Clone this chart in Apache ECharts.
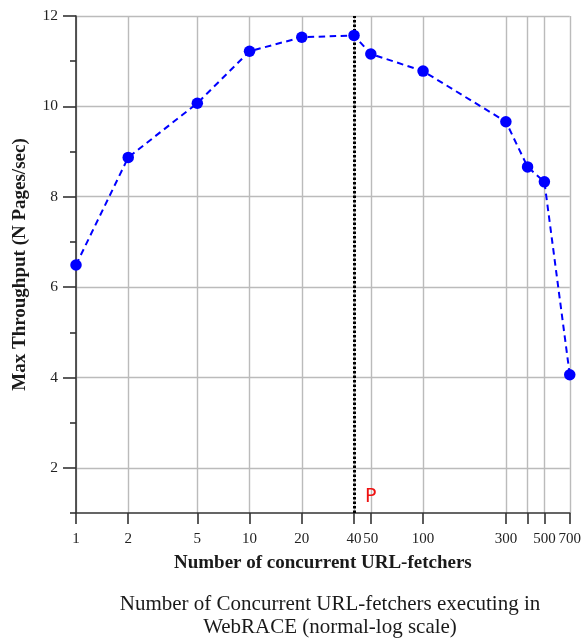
<!DOCTYPE html>
<html>
<head>
<meta charset="utf-8">
<script src="https://cdn.jsdelivr.net/npm/echarts@6/dist/echarts.min.js"></script>
<style>html,body{margin:0;padding:0;background:#fff;}#c{width:584px;height:640px;}</style>
</head>
<body>
<div id="c"></div>
<script>
var fetchers = [1, 2, 5, 10, 20, 40, 50, 100, 300, 400, 500, 700];
var throughput = [6.49, 8.87, 10.07, 11.22, 11.53, 11.57, 11.16, 10.78, 9.66, 8.66, 8.33, 4.06];
var xTicks = [1, 2, 5, 10, 20, 40, 50, 100, 300, 400, 500, 700];
var xLabels = [1, 2, 5, 10, 20, 40, 50, 100, 300, 500, 700];
var yMajor = [2, 4, 6, 8, 10, 12];
var yMinor = [1, 3, 5, 7, 9, 11];
var peakX = 40;
var markText = 'P';
var markPos = [50, 1.35];
var xName = 'Number of concurrent URL-fetchers';
var yName = 'Max Throughput (N Pages/sec)';
var caption = ['Number of Concurrent URL-fetchers executing in', 'WebRACE (normal-log scale)'];

var serif = '"Liberation Serif", "DejaVu Serif", serif';
var chart = echarts.init(document.getElementById('c'), null, {renderer: 'canvas'});
chart.setOption({
  animation: false,
  backgroundColor: '#fff',
  grid: {left: 76, right: 12, top: 16, bottom: 127, containLabel: false},
  xAxis: {
    type: 'log', logBase: 10, min: 1, max: 700,
    name: xName, nameLocation: 'middle', nameGap: 41,
    nameTextStyle: {fontFamily: serif, fontWeight: 'bold', fontSize: 19, color: '#1a1a1a'},
    axisLine: {show: true, onZero: false, lineStyle: {color: '#333', width: 1.6}},
    axisTick: {show: true, inside: false, length: 11, customValues: xTicks, lineStyle: {color: '#333', width: 1.6}},
    axisLabel: {customValues: xLabels, margin: 19, fontFamily: serif, fontSize: 15, color: '#222', showMinLabel: true, showMaxLabel: true, hideOverlap: false},
    splitLine: {show: true, lineStyle: {color: '#bbbbbb', width: 1.4}},
    minorTick: {show: false}
  },
  yAxis: [{
    type: 'value', min: 1, max: 12,
    name: yName, nameLocation: 'middle', nameGap: 46, nameRotate: 90,
    nameTextStyle: {fontFamily: serif, fontWeight: 'bold', fontSize: 19, color: '#1a1a1a'},
    axisLine: {show: true, lineStyle: {color: '#333', width: 1.6}},
    axisTick: {show: true, length: 13, customValues: yMajor, lineStyle: {color: '#333', width: 1.6}},
    axisLabel: {customValues: yMajor, margin: 18, fontFamily: serif, fontSize: 15.5, color: '#222'},
    splitLine: {show: true, lineStyle: {color: '#bbbbbb', width: 1.4}}
  }, {
    type: 'value', min: 1, max: 12, position: 'left',
    axisLine: {show: false},
    axisTick: {show: true, length: 6, customValues: yMinor, lineStyle: {color: '#333', width: 1.6}},
    axisLabel: {show: false},
    splitLine: {show: false}
  }],
  series: [{
    type: 'line',
    data: fetchers.map(function (f, i) { return [f, throughput[i]]; }),
    symbol: 'circle', symbolSize: 11.5,
    itemStyle: {color: '#0000ff'},
    lineStyle: {color: '#0000ff', width: 2, type: [6.5, 4.5]},
    z: 5,
    markLine: {
      silent: true, symbol: 'none', label: {show: false},
      lineStyle: {color: '#000', width: 3, type: [2.5, 2]},
      data: [{xAxis: peakX}]
    },
    markPoint: {
      silent: true, symbol: 'circle', symbolSize: 0,
      label: {show: true, formatter: markText, color: '#ee1111', fontFamily: '"DejaVu Sans", sans-serif', fontSize: 19, position: 'inside'},
      data: [{coord: markPos}]
    }
  }],
  graphic: [{
    type: 'text', x: 330, y: 604,
    style: {text: caption[0], fontFamily: serif, fontSize: 21, fill: '#1a1a1a', align: 'center', verticalAlign: 'middle'}
  }, {
    type: 'text', x: 330, y: 627,
    style: {text: caption[1], fontFamily: serif, fontSize: 21, fill: '#1a1a1a', align: 'center', verticalAlign: 'middle'}
  }]
});
</script>
</body>
</html>
